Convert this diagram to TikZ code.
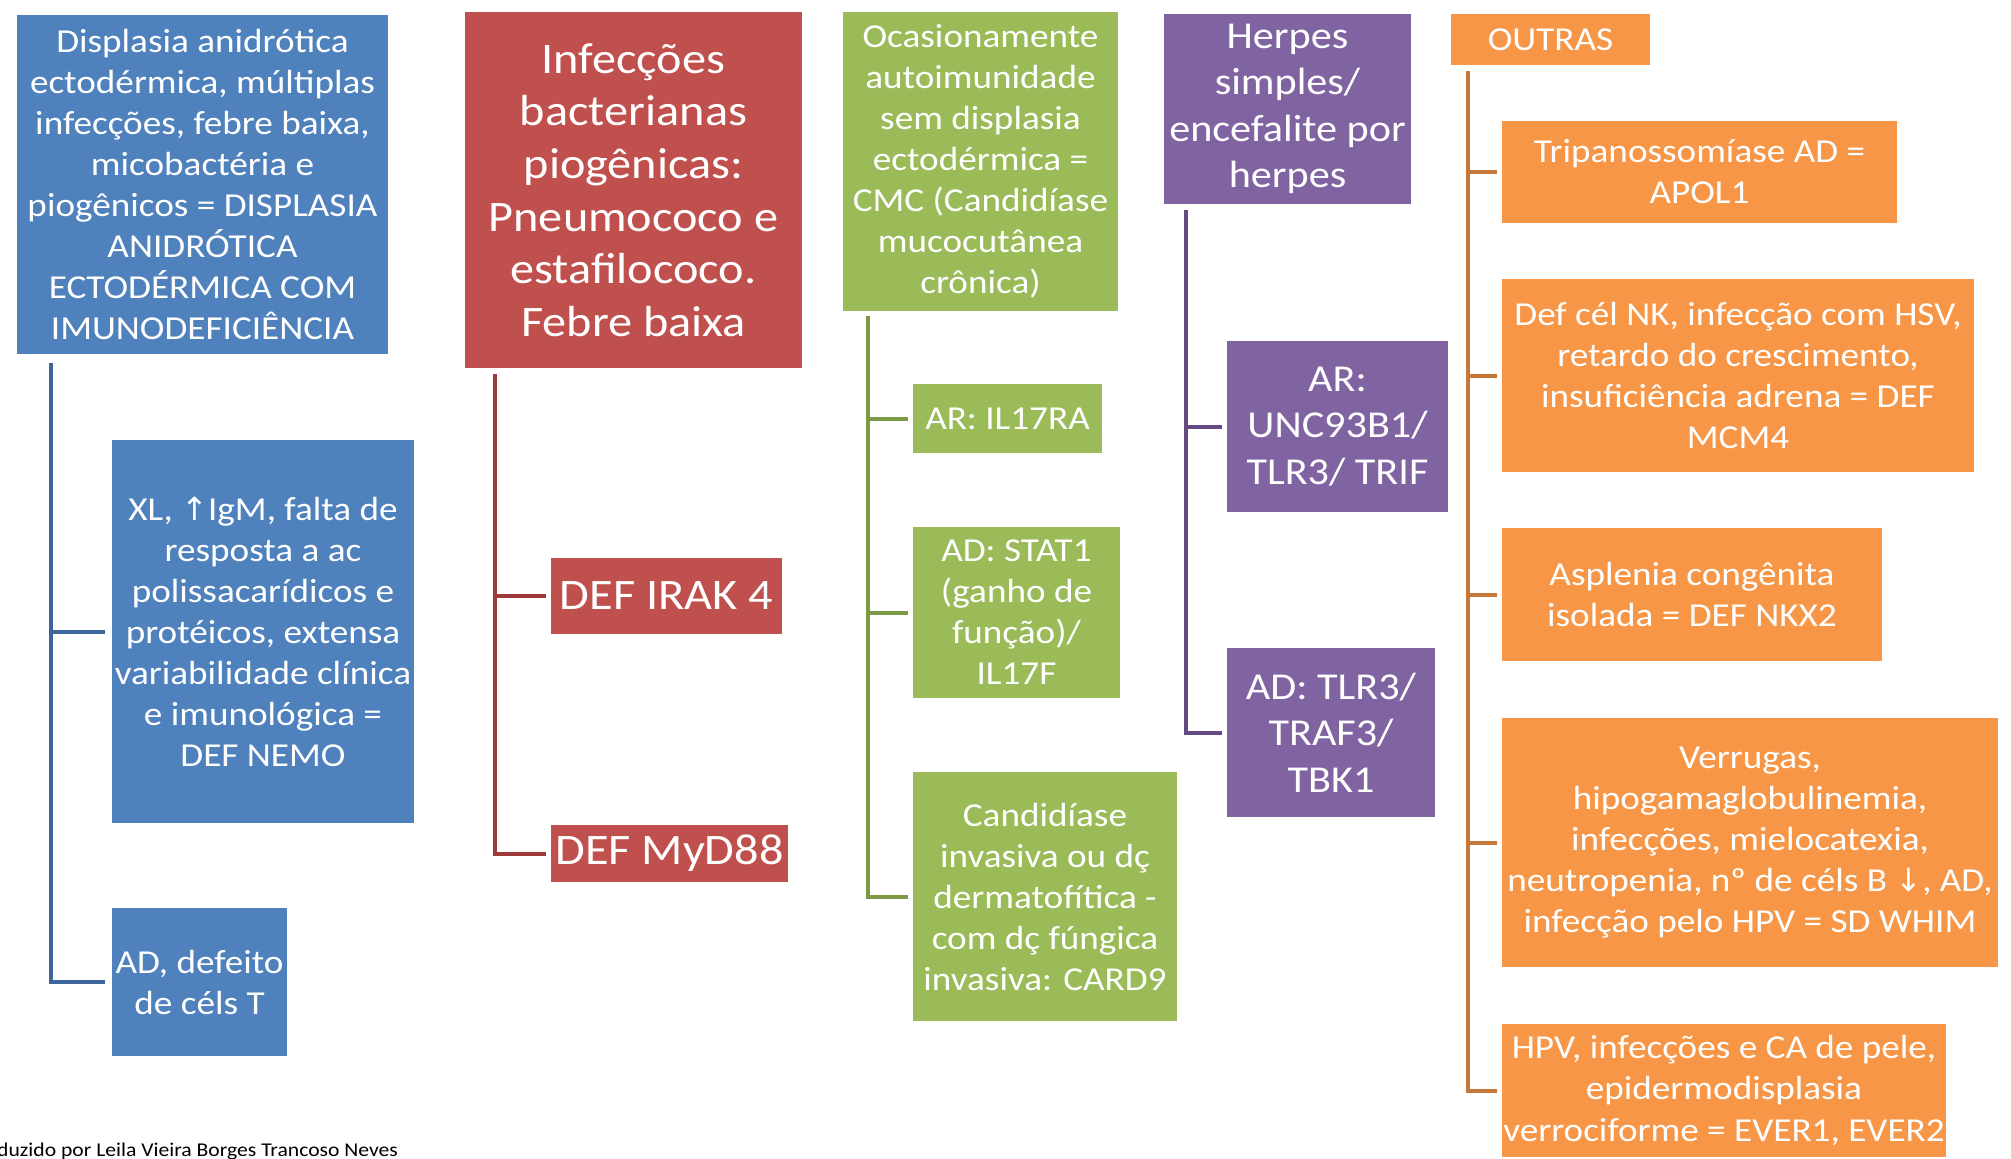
\documentclass[tikz,border=0pt]{standalone}
\usepackage{fontspec}
\setmainfont{Carlito}[FakeStretch=1.11]
\newfontfamily\arrowfont{DejaVu Sans}
\definecolor{cblue}{HTML}{4F81BD}
\definecolor{cred}{HTML}{C0504D}
\definecolor{cgreen}{HTML}{9BBB59}
\definecolor{cpurple}{HTML}{8064A2}
\definecolor{corange}{HTML}{F79646}
\definecolor{lblue}{HTML}{3E659B}
\definecolor{lred}{HTML}{9E3B39}
\definecolor{lgreen}{HTML}{7C9A45}
\definecolor{lpurple}{HTML}{634A80}
\definecolor{lorange}{HTML}{C4783A}
\newcommand\fsA{\fontsize{33.5}{41}\selectfont}
\newcommand\fsB{\fontsize{43.5}{52.6}\selectfont}
\newcommand\fsC{\fontsize{43.5}{52}\selectfont}
\newcommand\fsD{\fontsize{38}{46.5}\selectfont}
\begin{document}
\begin{tikzpicture}[x=1pt,y=-1pt,
  box/.style={rectangle, inner sep=0pt, align=center, text=white, font=\fsA},
  conn/.style={line width=4pt}]
\fill[white] (0,0) rectangle (2011,1159);
\useasboundingbox (0,0) rectangle (2011,1159);
% blue column
\node[box, fill=cblue, minimum width=371pt, minimum height=339pt] (b1) at (202.5,184.5)
  {Displasia anidrótica\\ectodérmica, múltiplas\\infecções, febre baixa,\\micobactéria e\\piogênicos = DISPLASIA\\ANIDRÓTICA\\ECTODÉRMICA COM\\IMUNODEFICIÊNCIA};
\node[box, fill=cblue, minimum width=302pt, minimum height=383pt] (b2) at (263,631.5)
  {XL, {\arrowfont\fontsize{32}{41}\selectfont ↑}IgM, falta de\\resposta a ac\\polissacarídicos e\\protéicos, extensa\\variabilidade clínica\\e imunológica =\\DEF NEMO};
\node[box, fill=cblue, minimum width=175pt, minimum height=148pt] (b3) at (199.5,982)
  {AD, defeito\\de céls T};
% red column
\node[box, fill=cred, minimum width=337pt, minimum height=356pt, font=\fsB] (r1) at (633.5,190)
  {Infecções\\bacterianas\\piogênicas:\\Pneumococo e\\estafilococo.\\Febre baixa};
\node[box, fill=cred, minimum width=231pt, minimum height=76pt, font=\fsC] (r2) at (666.5,596)
  {DEF IRAK 4};
\node[box, fill=cred, minimum width=237pt, minimum height=57pt, font=\fsC] (r3) at (669.5,853.5)
  {DEF MyD88};
% green column
\node[box, fill=cgreen, minimum width=275pt, minimum height=299pt] (g1) at (980.5,161.5)
  {Ocasionamente\\autoimunidade\\sem displasia\\ectodérmica =\\CMC (Candidíase\\mucocutânea\\crônica)};
\node[box, fill=cgreen, minimum width=189pt, minimum height=69pt] (g2) at (1007.5,418.5)
  {AR: IL17RA};
\node[box, fill=cgreen, minimum width=207pt, minimum height=171pt] (g3) at (1016.5,612.5)
  {AD: STAT1\\(ganho de\\função)/\\IL17F};
\node[box, fill=cgreen, minimum width=264pt, minimum height=249pt] (g4) at (1045,896.5)
  {Candidíase\\invasiva ou dç\\dermatofítica -\\com dç fúngica\\invasiva: CARD9};
% purple column
\node[box, fill=cpurple, minimum width=247pt, minimum height=190pt, font=\fsD] (p1) at (1287.5,109)
  {Herpes\\simples/\\encefalite por\\herpes};
\node[box, fill=cpurple, minimum width=221pt, minimum height=171pt, font=\fsD] (p2) at (1337.5,426.5)
  {AR:\\UNC93B1/\\TLR3/ TRIF};
\node[box, fill=cpurple, minimum width=208pt, minimum height=169pt, font=\fsD] (p3) at (1331,732.5)
  {AD: TLR3/\\TRAF3/\\TBK1};
% orange column
\node[box, fill=corange, minimum width=199pt, minimum height=51pt] (o1) at (1550.5,39.5)
  {OUTRAS};
\node[box, fill=corange, minimum width=395pt, minimum height=102pt] (o2) at (1699.5,172)
  {Tripanossomíase AD =\\APOL1};
\node[box, fill=corange, minimum width=472pt, minimum height=193pt] (o3) at (1738,375.5)
  {Def cél NK, infecção com HSV,\\retardo do crescimento,\\insuficiência adrena = DEF\\MCM4};
\node[box, fill=corange, minimum width=380pt, minimum height=133pt] (o4) at (1692,594.5)
  {Asplenia congênita\\isolada = DEF NKX2};
\node[box, fill=corange, minimum width=496pt, minimum height=249pt] (o5) at (1750,842.5)
  {Verrugas,\\hipogamaglobulinemia,\\infecções, mielocatexia,\\neutropenia, nº de céls B {\arrowfont\fontsize{32}{41}\selectfont ↓}, AD,\\infecção pelo HPV = SD WHIM};
\node[box, fill=corange, minimum width=444pt, minimum height=133pt] (o6) at (1724,1090.5)
  {HPV, infecções e CA de pele,\\epidermodisplasia\\verrociforme = EVER1, EVER2};
% footer
\node[anchor=west, inner sep=0pt, font=\fontsize{19.5}{22}\selectfont] (foot) at (-3,1151)
  {duzido por Leila Vieira Borges Trancoso Neves};
% connectors
\coordinate (bt) at (51,363);
\draw[conn, lblue] (bt) |- ([xshift=-7pt]b3.west);
\draw[conn, lblue] (bt |- b2.west) -- ([xshift=-7pt]b2.west);
\coordinate (rt) at (495,374);
\draw[conn, lred] (rt) |- ([xshift=-5pt]r3.west);
\draw[conn, lred] (rt |- r2.west) -- ([xshift=-5pt]r2.west);
\coordinate (gt) at (868,316);
\draw[conn, lgreen] (gt) |- ([xshift=-5pt]g4.west);
\draw[conn, lgreen] (gt |- g2.west) -- ([xshift=-5pt]g2.west);
\draw[conn, lgreen] (gt |- g3.west) -- ([xshift=-5pt]g3.west);
\coordinate (pt) at (1186,210);
\draw[conn, lpurple] (pt) |- ([xshift=-5pt]p3.west);
\draw[conn, lpurple] (pt |- p2.west) -- ([xshift=-5pt]p2.west);
\coordinate (ot) at (1468,71);
\draw[conn, lorange] (ot) |- ([xshift=-5pt]o6.west);
\draw[conn, lorange] (ot |- o2.west) -- ([xshift=-5pt]o2.west);
\draw[conn, lorange] (ot |- o3.west) -- ([xshift=-5pt]o3.west);
\draw[conn, lorange] (ot |- o4.west) -- ([xshift=-5pt]o4.west);
\draw[conn, lorange] (ot |- o5.west) -- ([xshift=-5pt]o5.west);
\end{tikzpicture}
\end{document}
